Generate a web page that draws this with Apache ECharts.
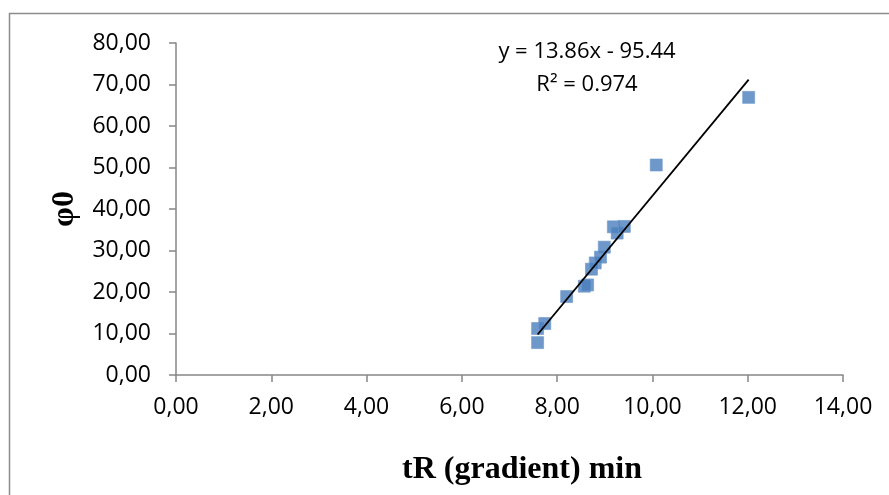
<!DOCTYPE html>
<html>
<head>
<meta charset="utf-8">
<script src="https://cdn.jsdelivr.net/npm/echarts@6/dist/echarts.min.js"></script>
<style>
  html, body { margin: 0; padding: 0; background: #fff; }
  #chart { width: 889px; height: 495px; }
</style>
</head>
<body>
<div id="chart"></div>
<script>
// Retention time under gradient (min) and phi0 for each compound
const tR = [7.59, 7.59, 7.74, 8.20, 8.57, 8.64, 8.72, 8.80, 8.91, 8.99, 9.18, 9.26, 9.41, 10.08, 12.02];
const phi0 = [7.8, 11.2, 12.4, 18.9, 21.4, 21.7, 25.5, 27.0, 28.4, 30.8, 35.7, 34.2, 35.8, 50.6, 66.9];

// Linear fit reported for the data
const slope = 13.86;
const intercept = -95.44;
const r2 = 0.974;

// Axis ranges and titles
const xRange = { min: 0, max: 14, step: 2 };
const yRange = { min: 0, max: 80, step: 10 };
const xTitle = 'tR (gradient) min';
const yTitle = 'φ0';

const points = tR.map((x, i) => [x, phi0[i]]);
const xLo = Math.min(...tR), xHi = Math.max(...tR);
const fitLine = [[xLo, slope * xLo + intercept], [xHi, slope * xHi + intercept]];

const comma = v => v.toFixed(2).replace('.', ',');
const tickFont = { fontFamily: 'Open Sans', fontSize: 23, color: '#000' };
const titleFont = { fontFamily: 'Liberation Serif', fontWeight: 'bold', fontSize: 32, fill: '#000' };
const axisGray = '#868686';

const chart = echarts.init(document.getElementById('chart'), null, { renderer: 'canvas' });
chart.setOption({
  backgroundColor: '#fff',
  animation: false,
  grid: { left: 176, right: 46, top: 43, bottom: 120, containLabel: false },
  xAxis: {
    type: 'value', min: xRange.min, max: xRange.max, interval: xRange.step,
    axisLine: { show: true, onZero: false, lineStyle: { color: axisGray, width: 1.5 } },
    axisTick: { show: true, length: 7, lineStyle: { color: axisGray, width: 1.5 } },
    splitLine: { show: false },
    axisLabel: Object.assign({ margin: 21, formatter: comma }, tickFont)
  },
  yAxis: {
    type: 'value', min: yRange.min, max: yRange.max, interval: yRange.step,
    axisLine: { show: true, onZero: false, lineStyle: { color: axisGray, width: 1.5 } },
    axisTick: { show: true, length: 7, lineStyle: { color: axisGray, width: 1.5 } },
    splitLine: { show: false },
    axisLabel: Object.assign({ margin: 25, formatter: comma }, tickFont)
  },
  series: [
    {
      type: 'scatter', data: points, symbol: 'rect', symbolSize: 12,
      itemStyle: { color: '#4A7EBB', borderColor: '#7099CC', borderWidth: 0.8 },
      z: 2
    },
    {
      type: 'line', data: fitLine, symbol: 'none', silent: true,
      lineStyle: { color: '#000', width: 1.8 }, z: 3
    }
  ],
  graphic: [
    {
      type: 'rect', shape: { x: 9.5, y: 13.5, width: 900, height: 500 },
      style: { fill: 'none', stroke: '#8c8c8c', lineWidth: 1.5 }, z: -1, silent: true
    },
    {
      type: 'text', x: 587, y: 35, z: 10,
      style: {
        text: 'y = ' + slope.toFixed(2) + 'x - ' + Math.abs(intercept).toFixed(2) + '\nR² = ' + r2.toFixed(3),
        fontFamily: 'Open Sans', fontSize: 22, lineHeight: 33, fill: '#000',
        align: 'center', verticalAlign: 'top'
      }
    },
    {
      type: 'text', x: 522, y: 470, z: 10,
      style: Object.assign({ text: xTitle, align: 'center', verticalAlign: 'middle' }, titleFont)
    },
    {
      type: 'text', x: 65, y: 209, rotation: Math.PI / 2, z: 10,
      style: Object.assign({ text: yTitle, align: 'center', verticalAlign: 'middle' }, titleFont)
    }
  ]
});
</script>
</body>
</html>
